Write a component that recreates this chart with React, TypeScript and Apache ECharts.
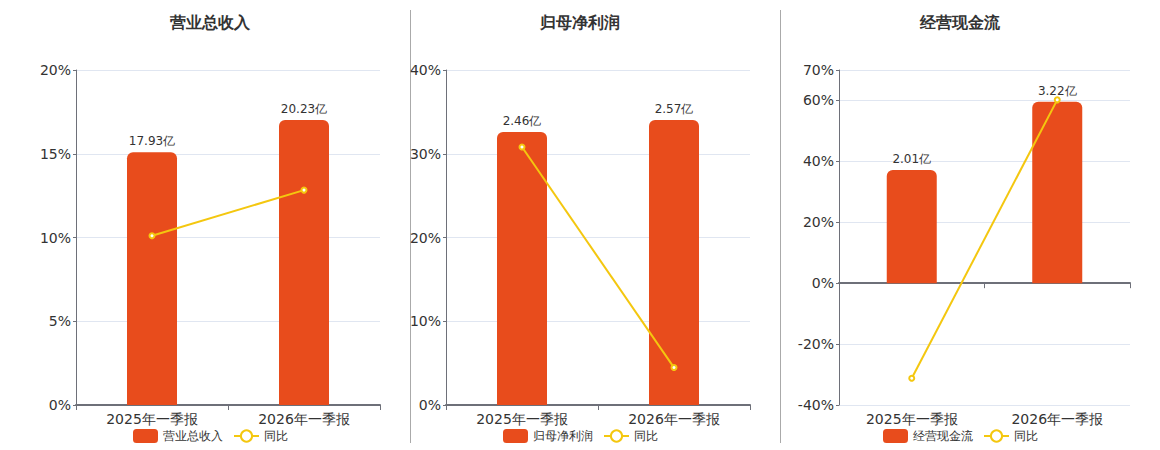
import React, { useEffect, useRef } from "react";
import * as echarts from "echarts";

const categories = ["2025年一季报", "2026年一季报"];
const titles = ["营业总收入", "归母净利润", "经营现金流"];
const barValues1 = [17.93, 20.23];
const barValues2 = [2.46, 2.57];
const barValues3 = [2.01, 3.22];
const yoy1 = [10.1, 12.83];
const yoy2 = [30.8, 4.47];
const yoy3 = [-31.2, 60.2];
const pctMin = [0, 0, -40];
const pctMax = [20, 40, 70];
const pctInterval = [5, 10, 20];

const BAR_COLOR = "#E84C1C";
const LINE_COLOR = "#F4C70F";

export default function App() {
  const ref = useRef<HTMLDivElement>(null);
  useEffect(() => {
    if (!ref.current) return;
    const chart = echarts.init(ref.current, undefined, { renderer: "svg" });
    const bars = [barValues1, barValues2, barValues3];
    const yoys = [yoy1, yoy2, yoy3];
    const grids = [
      { left: 76, width: 304, top: 70, height: 335 },
      { left: 446, width: 304, top: 70, height: 335 },
      { left: 839, width: 291, top: 70, height: 335 },
    ];
    const centers = [210, 580, 960];
    const legendLefts = [128, 498, 878];

    const xAxis: any[] = [];
    const yAxis: any[] = [];
    const series: any[] = [];
    grids.forEach((g, i) => {
      const barMax = Math.max(...bars[i]) * 1.175;
      const ratio = pctMin[i] / pctMax[i];
      yAxis.push({
        type: "value",
        gridIndex: i,
        min: pctMin[i],
        max: pctMax[i],
        interval: pctInterval[i],
        axisLine: { show: true, lineStyle: { color: "#6E7079" } },
        axisTick: { show: true, length: 3, lineStyle: { color: "#6E7079" } },
        axisLabel: { formatter: "{value}%", color: "#333", fontSize: 14, margin: 5 },
        splitLine: { lineStyle: { color: "#E0E6F1" } },
      });
      yAxis.push({
        type: "value",
        gridIndex: i,
        min: barMax * ratio,
        max: barMax,
        show: false,
        splitLine: { show: false },
      });
      if (i < 2) {
        xAxis.push({
          type: "category",
          gridIndex: i,
          data: categories,
          axisLine: { lineStyle: { color: "#6E7079", width: 2 } },
          axisTick: { show: true, lineStyle: { color: "#6E7079" } },
          axisLabel: { color: "#333", fontSize: 14, margin: 7 },
        });
      } else {
        xAxis.push({
          type: "category",
          gridIndex: i,
          data: categories,
          axisLine: { show: false, onZero: false },
          axisTick: { show: false },
          axisLabel: { color: "#333", fontSize: 14, margin: 7 },
        });
        xAxis.push({
          type: "category",
          gridIndex: i,
          data: categories,
          position: "bottom",
          axisLine: { show: true, onZero: true, onZeroAxisIndex: 4, lineStyle: { color: "#6E7079", width: 2 } },
          axisTick: { show: true, length: 5, lineStyle: { color: "#6E7079", width: 1 } },
          axisLabel: { show: false },
        });
      }
      const xIdx = i === 0 ? 0 : i === 1 ? 1 : 2;
      series.push({
        name: titles[i],
        type: "bar",
        xAxisIndex: xIdx,
        yAxisIndex: i * 2 + 1,
        data: bars[i],
        barWidth: 50,
        itemStyle: { color: BAR_COLOR, borderRadius: [6, 6, 0, 0] },
        label: {
          show: true,
          position: "top",
          color: "#333",
          fontSize: 12,
          formatter: (p: any) => p.value + "亿",
        },
      });
      series.push({
        name: "同比",
        type: "line",
        xAxisIndex: xIdx,
        yAxisIndex: i * 2,
        data: yoys[i],
        symbol: "emptyCircle",
        symbolSize: 5,
        lineStyle: { color: LINE_COLOR, width: 2 },
        itemStyle: { color: LINE_COLOR, borderWidth: 2 },
        z: 5,
      });
    });

    chart.setOption({
      animation: false,
      textStyle: { fontFamily: "DejaVu Sans, sans-serif" },
      title: titles.map((t, i) => ({
        text: t,
        left: centers[i],
        textAlign: "center",
        top: 14,
        padding: 0,
        textStyle: { fontSize: 16, fontWeight: "bold", color: "#333" },
      })),
      legend: titles.map((t, i) => ({
        data: [t, "同比"],
        left: legendLefts[i],
        top: 424,
        itemWidth: 25,
        itemHeight: 14,
        itemGap: 10,
        textStyle: { fontSize: 12, color: "#333" },
      })),
      grid: grids,
      xAxis,
      yAxis,
      series,
      graphic: [
        { type: "line", shape: { x1: 410.5, y1: 10, x2: 410.5, y2: 443 }, style: { stroke: "#AAAAAA", lineWidth: 1 } },
        { type: "line", shape: { x1: 780.5, y1: 10, x2: 780.5, y2: 443 }, style: { stroke: "#AAAAAA", lineWidth: 1 } },
      ],
    });
    return () => chart.dispose();
  }, []);
  return (
    <div
      ref={ref}
      style={{ position: "absolute", left: 0, top: 0, width: 1160, height: 450 }}
    />
  );
}
